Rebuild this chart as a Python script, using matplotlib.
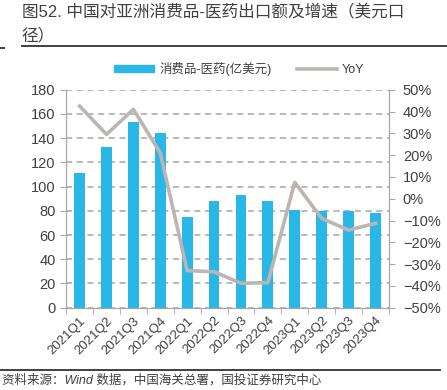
import numpy as np
import matplotlib
matplotlib.use("Agg")
import matplotlib.pyplot as plt
from matplotlib.lines import Line2D
from matplotlib.patches import Patch

plt.rcParams["font.family"] = ["Liberation Sans", "Noto Sans CJK SC", "DejaVu Sans"]

quarters = ["2021Q1", "2021Q2", "2021Q3", "2021Q4", "2022Q1", "2022Q2",
            "2022Q3", "2022Q4", "2023Q1", "2023Q2", "2023Q3", "2023Q4"]
export_val = [111.5, 132.5, 153.5, 144, 74.5, 88, 93, 88.5, 80.5, 80, 80, 78.5]
yoy = [42.5, 29.5, 41, 21, -33, -33.5, -38.8, -38.5, 7.5, -9, -14.4, -11.3]

BAR = "#29B7E8"
LINE = "#BDB5B3"
GRAY = "#A6A6A6"
TXT = "#404040"

fig = plt.figure(figsize=(4.47, 3.9), dpi=100)
ax = fig.add_axes([0.148, 0.211, 0.722, 0.559])
ax2 = ax.twinx()

x = np.arange(len(quarters))
ax.bar(x, export_val, width=0.4, color=BAR, zorder=3)
ax2.plot(x, yoy, color=LINE, lw=2.6, zorder=4)

ax.set_xlim(-0.5, 11.5)
ax.set_ylim(0, 180)
ax.set_yticks(np.arange(0, 181, 20))
ax2.set_ylim(-50, 50)
ax2.set_yticks(np.arange(-50, 51, 10))
ax2.set_yticklabels([f"{v}%".replace("-", "\u2212") for v in range(-50, 51, 10)])

ax.grid(axis="y", color=GRAY, ls=(0, (4, 3)), lw=1.1, zorder=0)
ax.set_xticks(x)
ax.set_xticklabels(quarters, rotation=45, ha="right", rotation_mode="anchor")
ax.set_xticks(np.arange(-0.5, 12, 1), minor=True)
ax.tick_params(axis="x", which="major", length=0, pad=5)
ax.tick_params(axis="x", which="minor", length=4, color=GRAY)

for a in (ax, ax2):
    a.spines["top"].set_visible(False)
    for s in ("left", "right", "bottom"):
        a.spines[s].set_color(GRAY)
    a.tick_params(axis="y", colors=GRAY, labelcolor=TXT, labelsize=10.5, length=4)
    a.tick_params(axis="x", labelcolor=TXT, labelsize=9.5)
ax2.tick_params(axis="y", pad=6)

handles = [Patch(color=BAR), Line2D([0], [0], color=LINE, lw=2.6)]
fig.legend(handles, ["消费品-医药(亿美元)", "YoY"], loc="center",
           bbox_to_anchor=(0.535, 0.823), ncol=2, frameon=False,
           fontsize=9, handlelength=3.2, handleheight=0.5, columnspacing=2.0,
           handletextpad=0.4, labelcolor=TXT)

fig.text(0.049, 0.967, "图52. 中国对亚洲消费品-医药出口额及增速（美元口",
         fontsize=12, color=TXT, va="center", fontweight="medium")
fig.text(0.049, 0.910, "径）", fontsize=12, color=TXT, va="center", fontweight="medium")
fig.add_artist(Line2D([0.049, 1.0], [0.882, 0.882], color="#404040", lw=1.4))
fig.add_artist(Line2D([0.0, 0.01], [0.877, 0.877], color="#404040", lw=1.4))
fig.add_artist(Line2D([0.0, 0.985], [0.051, 0.051], color="#404040", lw=1.4))
fig.text(0.004, 0.024, "资料来源：Wind 数据，中国海关总署，国投证券研究中心",
         fontsize=9, color=TXT, va="center", style="italic")

plt.savefig("out.png", dpi=100)
